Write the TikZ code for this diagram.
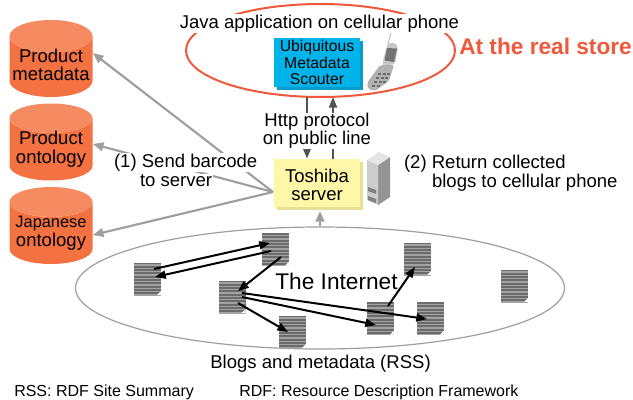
\documentclass[tikz,border=0pt]{standalone}
\usepackage{fontspec}
\setmainfont{Liberation Sans}
\usetikzlibrary{shapes.geometric,arrows.meta,calc}
\definecolor{cyl}{HTML}{F47242}
\definecolor{cyltop}{HTML}{F68A60}
\definecolor{redline}{HTML}{F0583C}
\definecolor{bluebox}{HTML}{00B4EA}
\definecolor{blueshadow}{HTML}{0A9CCB}
\definecolor{yelbox}{HTML}{FFF7A8}
\definecolor{yelshadow}{HTML}{E9DF92}
\renewcommand{\arraystretch}{0.96}
\newcommand{\shifted}[2]{\raisebox{#1}[0pt][0pt]{\begin{tabular}{@{}c@{}}#2\end{tabular}}}
\tikzset{
  lab/.style={font=\fontsize{13.9}{13.9}\selectfont,align=center,inner sep=0.6pt},
  halo/.style={lab,fill=white},
  dbase/.style={cylinder,shape border rotate=90,aspect=0.42,cylinder uses custom fill,
    cylinder body fill=cyl,cylinder end fill=cyltop,draw=none,minimum width=62.25pt,
    minimum height=57.75pt,inner sep=0pt,anchor=shape center,font=\fontsize{13.9}{13.5}\selectfont},
  grayarrow/.style={draw=black!38,line width=1.6pt,-{Triangle[length=8pt,width=6.5pt]}},
  darkarrow/.style={draw=black!68,line width=1.7pt,-{Triangle[length=8pt,width=6pt]}},
  linkarrow/.style={draw=black,line width=1.5pt,-{Triangle[length=8pt,width=6pt]}},
  docnode/.style={rectangle,minimum width=20.25pt,minimum height=24.3pt,inner sep=0pt,fill=black!58,
    path picture={
      \foreach \k in {0,...,9}{
        \fill[black!36] ([yshift=-1.2pt-\k*2.5pt]path picture bounding box.north west) rectangle ++(20.25pt,-1pt);}
      \fill[white] (path picture bounding box.south east) -- ++(-3pt,0) -- ++(3pt,3pt) -- cycle;
    }},
  boxbase/.style={rectangle,minimum width=64.5pt,inner sep=0pt,align=center}
}
\begin{document}
\begin{tikzpicture}[x=0.75pt,y=-0.75pt]
\useasboundingbox (0,0) rectangle (633,400);
% ellipses
\node[ellipse,draw=redline,line width=1.5pt,minimum width=201.75pt,minimum height=69.75pt,inner sep=0pt] (store) at (320.5,50.5) {};
\node[ellipse,draw=black!38,line width=0.9pt,minimum width=366.75pt,minimum height=91.5pt,inner sep=0pt] (net) at (320,288) {};
% boxes
\fill[blueshadow] (277,41) rectangle (363,90);
\node[boxbase,fill=bluebox,minimum height=36.75pt,font=\fontsize{11.8}{12.2}\selectfont] (ums) at (317,62.5) {Ubiquitous\\Metadata\\Scouter};
\fill[yelshadow] (277,162) rectangle (363,210);
\node[boxbase,fill=yelbox,minimum height=36pt,font=\fontsize{13.9}{13.9}\selectfont] (srv) at (317,183) {\shifted{-6.8pt}{Toshiba\\server}};
% cylinders
\node[dbase] (c1) at (51,58.5) {\shifted{-4pt}{Product\\metadata}};
\node[dbase] (c2) at (51,142) {\shifted{-4pt}{Product\\ontology}};
\node[dbase] (c3) at (51,225.5) {\shifted{-4pt}{\fontsize{12.3}{13.5}\selectfont Japanese\\\fontsize{13.9}{13.5}\selectfont ontology}};
% phone
\coordinate (phone) at (383,62);
\draw[black!30,line width=0.6pt] (388,44) -- (391,33);
\fill[black!22,rounded corners=1.5pt] (388,43) -- (396,43) -- (398,48) -- (395,64) -- (383,66) -- (383,60) -- cycle;
\fill[black!55] (387,48) -- (397,48.5) -- (394,62) -- (384.5,60.5) -- cycle;
\fill[black!30,rounded corners=1.5pt] (380,65) -- (394,65) -- (389,81) -- (375,91) -- (368,89) -- (367,83) -- cycle;
\foreach \a/\b in {378/73,382.5/73,387/73,376/77,380.5/77,385/77,374/81,378.5/81,383/81,372/85,376.5/85}
  \fill[black!58] (\a,\b) rectangle ++(3.2,2.4);
% server icon
\fill[black!42] (378,165) -- (390,157) -- (390,197) -- (378,205) -- cycle;
\fill[black!20] (367,160) -- (378,165) -- (378,205) -- (367,200) -- cycle;
\fill[black!10] (367,160) -- (379,152) -- (390,157) -- (378,165) -- cycle;
\fill[black!50] (368,187) -- (376,190) -- (376,194) -- (368,191) -- cycle;
\fill[black!50] (368,196) -- (376,199) -- (376,203) -- (368,200) -- cycle;
\coordinate (srvicon) at (378,178);
% gray connectors
\coordinate (hub) at (273,192);
\draw[grayarrow] (hub) -- (c1.east |- 0,53);
\draw[grayarrow] (hub) -- (c2.east |- 0,144);
\draw[grayarrow] (hub) -- (c3.east |- 0,235);
\draw[grayarrow] (net.north -| 320,0) -- (320,211);
\draw[darkarrow] ([shift={(-13.5,0)}]store.south |- 0,97) -- ([shift={(-10,0)}]srv.north);
\draw[darkarrow] (333,159) -- (333,97);
% documents
\node[docnode] (d1) at (147.5,279) {};
\node[docnode] (d2) at (275.5,249.5) {};
\node[docnode] (d3) at (232,297) {};
\node[docnode] (d4) at (292.5,332) {};
\node[docnode] (d5) at (417.5,259) {};
\node[docnode] (d6) at (380.5,318.5) {};
\node[docnode] (d7) at (430.5,318.5) {};
\node[docnode] (d8) at (514.5,286) {};
% document links
\draw[linkarrow] ([shift={(6.5,-10)}]d1.center) -- ([shift={(-5.5,-6.5)}]d2.center);
\draw[linkarrow] ([shift={(-4.5,1.5)}]d2.center) -- ([shift={(7.5,-2)}]d1.center);
\draw[linkarrow] ([shift={(5.5,7.5)}]d2.center) -- ([shift={(6,-6)}]d3.center);
\draw[linkarrow] ([shift={(10,0)}]d3.center) -- ([shift={(-4.5,6.5)}]d6.center);
\draw[linkarrow] ([shift={(10,-4)}]d3.center) -- ([shift={(-3.5,0.5)}]d7.center);
\draw[linkarrow] ([shift={(6,6)}]d3.center) -- ([shift={(-4.5,0)}]d4.center);
\draw[linkarrow] ([shift={(7.5,-12.5)}]d6.center) -- ([shift={(-2.5,8)}]d5.center);
% labels
\node[halo] (javalab) at (319.5,23.5) {Java application on cellular phone};
\node[font=\bfseries\fontsize{17}{17}\selectfont,text=redline,inner sep=0pt,anchor=west] (realstore) at (459,46) {At the real store};
\node[halo] (http1) at (317,122) {Http protocol};
\node[halo] (http2) at (317,140) {on public line};
\node[halo,anchor=west] (send1) at (113,162.5) {(1) Send barcode};
\node[halo,anchor=west] (send2) at (139,181) {to server};
\node[lab,anchor=west] (ret1) at (403,163.5) {(2) Return collected};
\node[lab,anchor=west] (ret2) at (431,182.5) {blogs to cellular phone};
\node[font=\fontsize{17}{17}\selectfont,inner sep=0pt] (inet) at (336.5,281) {The Internet};
\node[lab] (blogs) at (320.5,363.5) {Blogs and metadata (RSS)};
\node[font=\fontsize{12}{12}\selectfont,inner sep=0pt,anchor=west] (rss) at (14,392) {RSS: RDF Site Summary};
\node[font=\fontsize{12}{12}\selectfont,inner sep=0pt,anchor=west] (rdf) at (239,392) {RDF: Resource Description Framework};
\end{tikzpicture}
\end{document}
